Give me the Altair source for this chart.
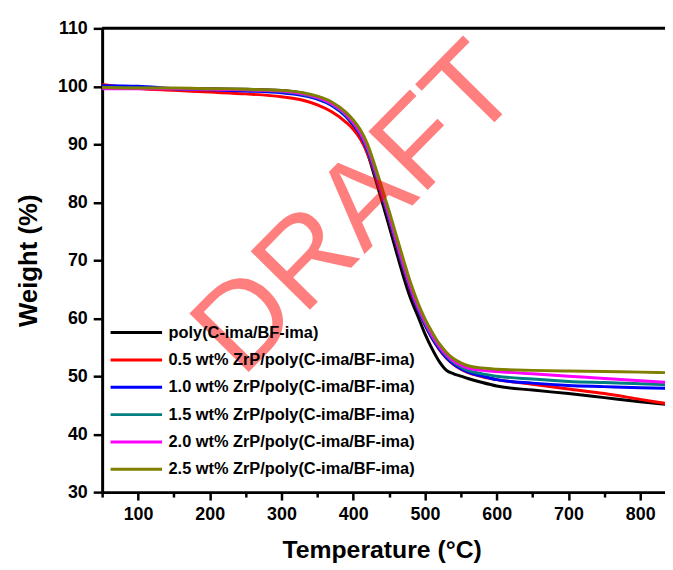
import altair as alt
import pandas as pd

# ---------------- data ----------------
temps = [50, 100, 150, 200, 250, 300, 330, 350, 370, 390, 400, 410, 420, 430, 440,
         450, 460, 470, 480, 490, 500, 510, 520, 530, 540, 550, 560, 580, 600, 650,
         700, 750, 800, 840]

w_poly = [99.8, 99.7, 99.6, 99.6, 99.5, 99.3, 98.8, 98.0, 96.8, 94.8, 93.3, 91.3, 88.4,
          84.4, 80.2, 75.9, 71.5, 67.2, 63.4, 60.4, 57.3, 54.7, 52.5, 51.0, 50.4, 50.0,
          49.6, 48.9, 48.3, 47.6, 47.0, 46.3, 45.6, 45.1]
w_05 = [100.3, 99.6, 99.3, 99.0, 98.7, 98.2, 97.6, 96.8, 95.6, 93.8, 92.6, 90.9, 88.4,
        85.0, 81.1, 77.0, 72.7, 68.5, 64.7, 61.5, 58.8, 56.5, 54.6, 53.1, 52.0, 51.2,
        50.6, 49.9, 49.4, 48.6, 47.8, 47.0, 46.0, 45.2]
w_10 = [100.1, 100.0, 99.6, 99.4, 99.2, 98.9, 98.4, 97.8, 96.7, 94.8, 93.4, 91.6, 88.9,
        85.3, 81.3, 77.2, 72.9, 68.7, 64.9, 61.6, 58.9, 56.6, 54.7, 53.2, 52.1, 51.3,
        50.7, 50.0, 49.4, 48.8, 48.4, 48.2, 48.0, 47.9]
w_15 = [99.8, 99.7, 99.6, 99.5, 99.4, 99.1, 98.6, 98.0, 96.9, 95.0, 93.6, 91.8, 89.2,
        85.6, 81.6, 77.5, 73.2, 69.0, 65.2, 61.9, 59.2, 56.9, 55.0, 53.5, 52.4, 51.6,
        51.0, 50.4, 50.0, 49.5, 49.1, 48.9, 48.7, 48.5]
w_20 = [99.6, 99.6, 99.6, 99.5, 99.4, 99.2, 98.7, 98.1, 97.0, 95.2, 93.8, 92.0, 89.5,
        85.9, 81.9, 77.8, 73.5, 69.3, 65.4, 62.1, 59.4, 57.1, 55.2, 53.7, 52.6, 51.9,
        51.4, 51.0, 50.8, 50.4, 50.0, 49.6, 49.2, 48.9]
w_25 = [99.8, 99.7, 99.7, 99.6, 99.5, 99.3, 98.9, 98.3, 97.3, 95.5, 94.2, 92.5, 90.0,
        86.4, 82.5, 78.5, 74.3, 70.1, 66.1, 62.7, 59.9, 57.6, 55.6, 54.1, 53.0, 52.3,
        51.8, 51.4, 51.2, 51.0, 50.9, 50.8, 50.7, 50.6]

series_names = [
    "poly(C-ima/BF-ima)",
    "0.5 wt% ZrP/poly(C-ima/BF-ima)",
    "1.0 wt% ZrP/poly(C-ima/BF-ima)",
    "1.5 wt% ZrP/poly(C-ima/BF-ima)",
    "2.0 wt% ZrP/poly(C-ima/BF-ima)",
    "2.5 wt% ZrP/poly(C-ima/BF-ima)",
]
series_colors = ["#000000", "#ff0000", "#0000ff", "#008080", "#ff00ff", "#808000"]
series_values = [w_poly, w_05, w_10, w_15, w_20, w_25]

x_ticks = [50, 100, 150, 200, 250, 300, 350, 400, 450, 500, 550, 600, 650, 700, 750, 800]
y_ticks = [30, 35, 40, 45, 50, 55, 60, 65, 70, 75, 80, 85, 90, 95, 100, 105, 110]

rows = []
for name, vals in zip(series_names, series_values):
    for t, w in zip(temps, vals):
        rows.append({"T": t, "W": w, "series": name})
df = pd.DataFrame(rows)

FONT = "Liberation Sans"
W, H = 568, 468

x_enc = alt.X(
    "T:Q",
    scale=alt.Scale(domain=[50, 834.6], nice=False, zero=False),
    axis=alt.Axis(
        values=x_ticks,
        title="Temperature (°C)",
        labelExpr="datum.value % 100 === 0 ? datum.label : ''",
        labelOverlap=False,
        labelFlush=False,
        tickSize={"condition": {"test": "datum.value % 100 === 0", "value": 8}, "value": 5},
        titleX=282,
        titleY=58,
        titleBaseline="middle",
    ),
)
y_enc = alt.Y(
    "W:Q",
    scale=alt.Scale(domain=[30, 110], nice=False, zero=False),
    axis=alt.Axis(
        values=y_ticks,
        title="Weight (%)",
        labelExpr="datum.value % 10 === 0 ? datum.label : ''",
        labelOverlap=False,
        labelFlush=False,
        tickSize={"condition": {"test": "datum.value % 10 === 0", "value": 9}, "value": 5},
        titleX=-74,
        titleY=234,
        titleAngle=270,
        titleAlign="center",
        titleBaseline="middle",
    ),
)

lines = alt.Chart(df).mark_line(strokeWidth=3, interpolate="monotone", clip=True).encode(
    x=x_enc,
    y=y_enc,
    color=alt.Color(
        "series:N",
        sort=series_names,
        scale=alt.Scale(domain=series_names, range=series_colors),
        legend=alt.Legend(
            title=None,
            orient="none",
            legendX=7,
            legendY=297,
            symbolType="stroke",
            symbolSize=2704,
            symbolStrokeWidth=3,
            clipHeight=20,
            rowPadding=7.6,
            labelFont=FONT,
            labelFontSize=16.5,
            labelFontWeight="bold",
            labelColor="#000000",
            labelOffset=5,
            labelLimit=0,
            padding=0,
        ),
    ),
    order=alt.Order("T:Q"),
)

top_frame = alt.Chart(pd.DataFrame({"v": [110]})).mark_rule(
    color="black", strokeWidth=3
).encode(y=alt.Y("v:Q"), x=alt.value(0), x2=alt.value(W))

watermark = alt.Chart(pd.DataFrame({"txt": ["DRAFT"]})).mark_text(
    font=FONT, fontSize=122, color="#ff0000", opacity=0.5, angle=314.5,
    align="center", baseline="middle"
).encode(text="txt:N", x=alt.value(257), y=alt.value(183))

chart = alt.layer(lines, top_frame, watermark).properties(
    width=W,
    height=H,
    autosize=alt.AutoSizeParams(type="none"),
    padding={"left": 95, "top": 18, "right": 0, "bottom": 70},
).configure_view(stroke=None).configure_axis(
    domainColor="black",
    domainWidth=3,
    tickColor="black",
    tickWidth=2.5,
    labelFont=FONT,
    labelFontSize=18,
    labelFontWeight="bold",
    labelColor="black",
    labelPadding=6,
    titleFont=FONT,
    titleFontWeight="bold",
    titleColor="black",
    grid=False,
).configure_axisX(titleFontSize=25).configure_axisY(titleFontSize=26)

chart.save("out.html", embed_options={"renderer": "svg", "actions": False})
